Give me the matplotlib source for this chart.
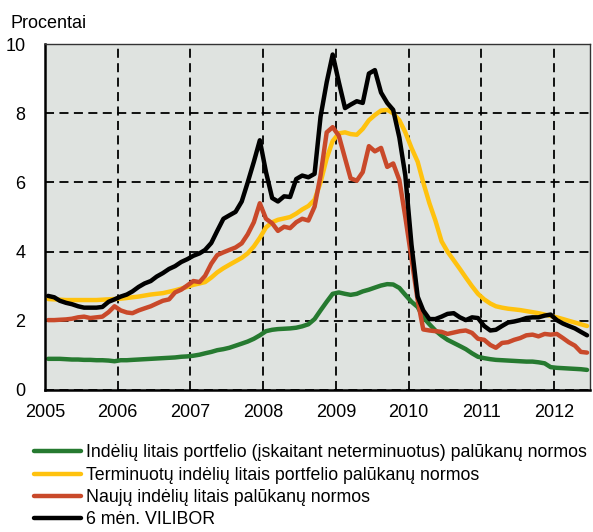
import matplotlib
matplotlib.use("Agg")
import matplotlib.pyplot as plt
import pandas as pd

plt.rcParams["font.family"] = ["Liberation Sans Narrow", "Liberation Sans", "DejaVu Sans"]

# monthly, Jan 2005 .. Jun 2012, each value placed mid-month (category-style axis)
months = pd.date_range("2005-01-01", "2012-06-01", freq="MS") + pd.Timedelta(days=15)

green = [0.90, 0.90, 0.90, 0.89, 0.88, 0.88, 0.87, 0.87, 0.86, 0.86, 0.85, 0.83,
         0.86, 0.86, 0.87, 0.88, 0.89, 0.90, 0.91, 0.92, 0.93, 0.94, 0.96, 0.97,
         0.99, 1.02, 1.06, 1.10, 1.15, 1.18, 1.22, 1.28, 1.34, 1.40, 1.48, 1.58,
         1.70, 1.74, 1.76, 1.77, 1.78, 1.80, 1.84, 1.90, 2.05, 2.30, 2.55, 2.78,
         2.82, 2.78, 2.75, 2.78, 2.85, 2.90, 2.96, 3.02, 3.06, 3.05, 2.95, 2.75,
         2.55, 2.40, 2.10, 1.90, 1.72, 1.57, 1.45, 1.36, 1.27, 1.18, 1.06, 0.96,
         0.92, 0.89, 0.87, 0.86, 0.85, 0.84, 0.83, 0.82, 0.82, 0.80, 0.77, 0.66,
         0.64, 0.63, 0.62, 0.61, 0.60, 0.58]

yellow = [2.63, 2.62, 2.61, 2.60, 2.60, 2.60, 2.60, 2.60, 2.60, 2.61, 2.62, 2.63,
          2.64, 2.66, 2.68, 2.70, 2.73, 2.76, 2.78, 2.80, 2.84, 2.88, 2.93, 2.98,
          3.04, 3.08, 3.12, 3.25, 3.40, 3.52, 3.62, 3.72, 3.82, 3.95, 4.15, 4.40,
          4.70, 4.85, 4.92, 4.96, 5.00, 5.10, 5.22, 5.32, 5.50, 6.00, 6.70, 7.20,
          7.42, 7.45, 7.40, 7.38, 7.55, 7.80, 7.95, 8.08, 8.10, 8.00, 7.80, 7.45,
          7.00, 6.60, 6.00, 5.40, 4.90, 4.30, 4.00, 3.75, 3.50, 3.25, 3.00, 2.78,
          2.62, 2.50, 2.42, 2.38, 2.35, 2.33, 2.31, 2.28, 2.25, 2.22, 2.18, 2.14,
          2.10, 2.05, 2.00, 1.95, 1.90, 1.85]

red = [2.02, 2.02, 2.03, 2.04, 2.06, 2.10, 2.12, 2.08, 2.10, 2.12, 2.25, 2.42,
       2.30, 2.24, 2.22, 2.30, 2.36, 2.42, 2.50, 2.58, 2.62, 2.82, 2.90, 3.02,
       3.15, 3.12, 3.30, 3.65, 3.90, 3.98, 4.05, 4.12, 4.24, 4.50, 4.85, 5.40,
       4.95, 4.82, 4.60, 4.72, 4.68, 4.85, 4.95, 4.90, 5.30, 6.20, 7.45, 7.60,
       7.35, 6.70, 6.12, 6.05, 6.30, 7.05, 6.90, 7.00, 6.45, 6.55, 6.07, 5.00,
       3.80, 2.60, 1.75, 1.72, 1.70, 1.68, 1.62, 1.66, 1.70, 1.72, 1.65, 1.48,
       1.45, 1.30, 1.22, 1.36, 1.38, 1.45, 1.50, 1.58, 1.60, 1.55, 1.62, 1.60,
       1.62, 1.50, 1.38, 1.28, 1.10, 1.08]

vilibor = [2.72, 2.68, 2.58, 2.52, 2.48, 2.42, 2.38, 2.38, 2.38, 2.40, 2.55, 2.62,
           2.70, 2.76, 2.85, 2.98, 3.08, 3.15, 3.28, 3.38, 3.50, 3.58, 3.70, 3.78,
           3.88, 3.95, 4.05, 4.25, 4.60, 4.95, 5.05, 5.15, 5.45, 6.00, 6.60, 7.22,
           6.30, 5.55, 5.45, 5.60, 5.58, 6.10, 6.20, 6.15, 6.25, 7.90, 8.90, 9.70,
           8.90, 8.15, 8.25, 8.35, 8.30, 9.15, 9.25, 8.60, 8.30, 8.10, 7.30, 6.20,
           4.20, 2.70, 2.30, 2.05, 2.05, 2.12, 2.20, 2.22, 2.10, 2.02, 2.10, 2.08,
           1.85, 1.72, 1.74, 1.85, 1.95, 1.98, 2.02, 2.08, 2.10, 2.10, 2.15, 2.18,
           2.02, 1.92, 1.85, 1.78, 1.68, 1.58]

labels = ["Indėlių litais portfelio (įskaitant neterminuotus) palūkanų normos",
          "Terminuotų indėlių litais portfelio palūkanų normos",
          "Naujų indėlių litais palūkanų normos",
          "6 mėn. VILIBOR"]
colours = ["#267A30", "#FFC20E", "#C9492A", "#000000"]
year_ticks = [str(y) for y in range(2005, 2013)]

fig = plt.figure(figsize=(5.93, 5.32), dpi=100)
ax = fig.add_axes([0.076, 0.267, 0.919, 0.650])
ax.set_facecolor("#DFE3E0")

for s, c, l in zip([green, yellow, red, vilibor], colours, labels):
    ax.plot(months, s, color=c, lw=3.2, label=l, solid_capstyle="round", solid_joinstyle="round")

ax.set_xlim(pd.Timestamp("2005-01-01"), pd.Timestamp("2012-07-01"))
ax.set_ylim(0, 10)
ax.set_yticks([0, 2, 4, 6, 8, 10])
ax.set_xticks([pd.Timestamp(f"{y}-01-01") for y in year_ticks])
ax.set_xticklabels(year_ticks)
ax.tick_params(length=0, labelsize=13)
ax.tick_params(axis="x", pad=10)
ax.tick_params(axis="y", pad=14)
ax.grid(True, color="black", ls=(0, (5, 3)), lw=1.3)
ax.set_axisbelow(True)
for sp in ["left", "bottom"]:
    ax.spines[sp].set_linewidth(1.8)
    ax.spines[sp].set_color("black")
for sp in ["top", "right"]:
    ax.spines[sp].set_linewidth(1.0)
    ax.spines[sp].set_color("#333333")

fig.text(0.017, 0.955, "Procentai", fontsize=13, va="center", ha="left")

fig.legend(loc="upper left", bbox_to_anchor=(0.046, 0.178), frameon=False, fontsize=12.8,
           handlelength=2.6, handletextpad=0.3, labelspacing=0.30, borderaxespad=0)

fig.savefig("out.png", dpi=100)
